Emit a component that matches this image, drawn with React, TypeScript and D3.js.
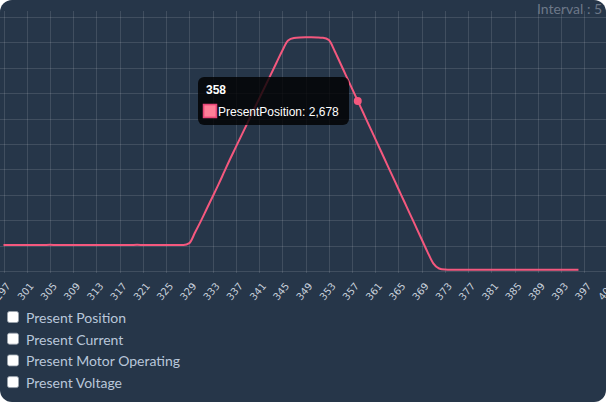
import * as d3 from 'd3'

// x axis: sample index, y: present position (0..4095)
const indices = [
  297, 298, 299, 300, 301, 302, 303, 304, 305, 306, 307, 308, 309, 310, 311, 312,
  313, 314, 315, 316, 317, 318, 319, 320, 321, 322, 323, 324, 325, 326, 327, 328,
  329, 330, 331, 332, 333, 334, 335, 336, 337, 338, 339, 340, 341, 342, 343, 344,
  345, 346, 347, 348, 349, 350, 351, 352, 353, 354, 355, 356, 357, 358, 359, 360,
  361, 362, 363, 364, 365, 366, 367, 368, 369, 370, 371, 372, 373, 374, 375, 376,
  377, 378, 379, 380, 381, 382, 383, 384, 385, 386, 387, 388, 389, 390, 391, 392,
  393, 394, 395, 396,
]
const presentPosition = [
  408, 410, 409, 411, 410, 408, 409, 410, 412, 410, 409, 408, 410, 411, 410, 409,
  410, 408, 409, 411, 410, 409, 410, 412, 410, 409, 408, 410, 409, 410, 411, 410,
  440, 610, 790, 980, 1170, 1360, 1560, 1760, 1950, 2140, 2330, 2520, 2710, 2900, 3090, 3280,
  3470, 3630, 3670, 3678, 3680, 3680, 3678, 3672, 3640, 3470, 3272, 3074, 2876, 2678, 2480, 2282,
  2084, 1886, 1688, 1490, 1292, 1094, 896, 698, 500, 302, 120, 40, 22, 18, 18, 18,
  18, 18, 18, 18, 18, 18, 18, 18, 18, 18, 18, 18, 18, 18, 18, 18,
  18, 18, 18, 18,
]
const xTicks = [
  297, 301, 305, 309, 313, 317, 321, 325, 329, 333, 337, 341, 345, 349, 353,
  357, 361, 365, 369, 373, 377, 381, 385, 389, 393, 397, 401,
]
const yTicks = [0, 400, 800, 1200, 1600, 2000, 2400, 2800, 3200, 3600, 4000]
const checkboxes = ['Present Position', 'Present Current', 'Present Motor Operating', 'Present Voltage']
const hoverIndex = 358

const W = 606
const H = 402
const LINE = '#f4587e'

export default function App() {
  const x = d3.scaleLinear().domain([297, 401]).range([3.5, 607.5])
  const y = d3.scaleLinear().domain([0, 4095]).range([271, 11])
  const points = indices.map((d, i) => [d, presentPosition[i]] as [number, number])
  const line = d3.line<[number, number]>()
    .x(d => x(d[0]))
    .y(d => y(d[1]))
    .curve(d3.curveMonotoneX)
  const hv = presentPosition[indices.indexOf(hoverIndex)]

  return (
    <div style={{ position: 'absolute', left: 0, top: 0, width: W, height: H, background: '#fff' }}>
      <svg width={W} height={H} style={{ display: 'block' }}>
        <defs>
          <clipPath id="panel">
            <rect x={0} y={0} width={W} height={H} rx={12} />
          </clipPath>
        </defs>
        <g clipPath="url(#panel)">
          <rect x={0} y={0} width={W} height={H} fill="#263649" />

          {/* grid */}
          {yTicks.map(t => (
            <line key={'y' + t} x1={0} x2={W} y1={Math.round(y(t)) + 0.5} y2={Math.round(y(t)) + 0.5}
              stroke="rgba(255,255,255,0.12)" strokeWidth={1} />
          ))}
          {xTicks.map(t => (
            <line key={'x' + t} x1={Math.round(x(t)) + 0.5} x2={Math.round(x(t)) + 0.5} y1={11} y2={273}
              stroke="rgba(255,255,255,0.12)" strokeWidth={1} />
          ))}

          {/* tick labels */}
          {xTicks.map(t => (
            <text key={'l' + t} transform={`translate(${x(t) + 5},${284}) rotate(-50)`}
              textAnchor="end" dy="0.35em" fontSize={10} fill="#c9d1dc"
              fontFamily="'DejaVu Sans', sans-serif">{t}</text>
          ))}

          <path d={line(points) ?? ''} fill="none" stroke={LINE} strokeWidth={2} />
          <circle cx={x(hoverIndex)} cy={y(hv)} r={4} fill={LINE} />

          {/* tooltip */}
          <rect x={198} y={77} width={151} height={48} rx={6} fill="rgba(0,0,0,0.8)" />
          <text x={206} y={94} fontSize={12} fontWeight="bold" fill="#fff"
            fontFamily="'Liberation Sans', Arial, sans-serif">{hoverIndex}</text>
          <rect x={203.5} y={104.5} width={13} height={13} fill={LINE} stroke="#e8477a" strokeWidth={1.5} />
          <rect x={204.5} y={105.5} width={11} height={11} fill="#ff7f99" />
          <text x={218} y={116} fontSize={12} fill="#fff"
            fontFamily="'Liberation Sans', Arial, sans-serif">
            {`PresentPosition: ${d3.format(',')(hv)}`}
          </text>

          <text x={537} y={14} fontSize={14} fill="#6d7888" fontFamily="Lato, sans-serif">Interval : 5</text>

          {/* checkboxes */}
          {checkboxes.map((c, i) => (
            <g key={c} transform={`translate(0,${i * 21.7})`}>
              <rect x={7.5} y={311.5} width={11} height={11} rx={2} fill="#fff" stroke="#9aa3ad" strokeWidth={0.8} />
              <text x={26} y={323} fontSize={14} fill="#b9c7da" fontFamily="Lato, sans-serif">{c}</text>
            </g>
          ))}
        </g>
      </svg>
    </div>
  )
}
